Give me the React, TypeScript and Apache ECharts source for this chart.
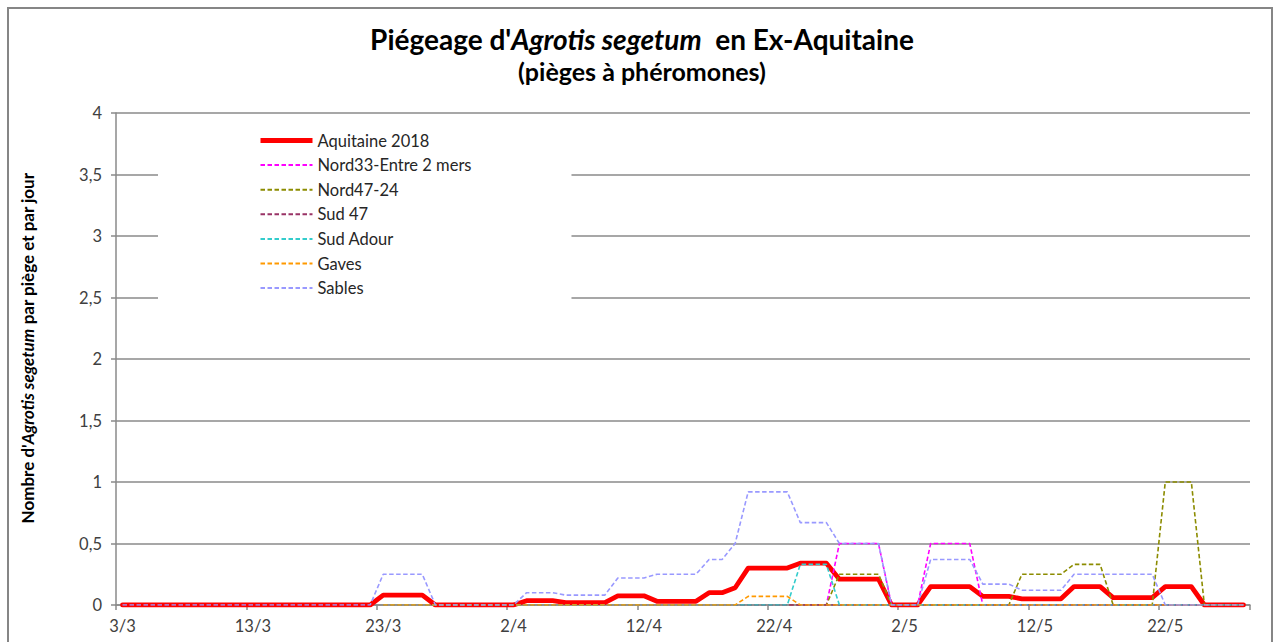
import React, { useEffect, useRef } from "react";
import * as echarts from "echarts";

// Daily categories from 3/3 to 28/5 (87 days)
const startMonth = 3;
const startDay = 3;
const dayCount = 87;
const monthLengths: Record<number, number> = { 3: 31, 4: 30, 5: 31 };
const dates: string[] = (() => {
  const out: string[] = [];
  let d = startDay;
  let m = startMonth;
  for (let i = 0; i < dayCount; i++) {
    out.push(`${d}/${m}`);
    d++;
    if (d > monthLengths[m]) {
      d = 1;
      m++;
    }
  }
  return out;
})();

const yTicks = [0, 0.5, 1, 1.5, 2, 2.5, 3, 3.5, 4];

const seriesNames = [
  "Aquitaine 2018",
  "Nord33-Entre 2 mers",
  "Nord47-24",
  "Sud 47",
  "Sud Adour",
  "Gaves",
  "Sables",
];
const seriesColors = ["#FF0000", "#FF00FF", "#8C8C00", "#993366", "#33CCCC", "#FF9900", "#9999FF"];

const aquitaine = [
  0, 0, 0, 0, 0, 0, 0, 0, 0, 0,
  0, 0, 0, 0, 0, 0, 0, 0, 0, 0,
  0.08, 0.08, 0.08, 0.08, 0, 0, 0, 0, 0, 0,
  0, 0.035, 0.035, 0.035, 0.02, 0.02, 0.02, 0.02, 0.075, 0.075,
  0.075, 0.03, 0.03, 0.03, 0.03, 0.1, 0.1, 0.14, 0.3, 0.3,
  0.3, 0.3, 0.34, 0.34, 0.34, 0.21, 0.21, 0.21, 0.21, 0,
  0, 0, 0.15, 0.15, 0.15, 0.15, 0.07, 0.07, 0.07, 0.05,
  0.05, 0.05, 0.05, 0.15, 0.15, 0.15, 0.06, 0.06, 0.06, 0.06,
  0.15, 0.15, 0.15, 0, 0, 0, 0,
];

const nord33 = [
  null, null, null, null, null, null, null, null, null, null,
  null, null, null, null, null, null, null, null, null, null,
  0, 0, 0, 0, 0, 0, 0, 0, 0, 0,
  0, 0, 0, 0, 0, 0, 0, 0, 0, 0,
  0, 0, 0, 0, 0, 0, 0, 0, 0, 0,
  0, 0, 0, 0, 0, 0.5, 0.5, 0.5, 0.5, 0,
  0, 0, 0.5, 0.5, 0.5, 0.5, 0, 0, 0, 0,
  0, 0, 0, 0, 0, 0, 0, 0, 0, 0,
  0, 0, 0, 0, 0, 0, 0,
];

const nord47 = [
  null, null, null, null, null, null, null, null, null, null,
  null, null, null, null, null, null, null, null, null, null,
  0, 0, 0, 0, 0, 0, 0, 0, 0, 0,
  0, 0, 0, 0, 0, 0, 0, 0, 0, 0,
  0, 0, 0, 0, 0, 0, 0, 0, 0, 0,
  0, 0, 0, 0, 0, 0.25, 0.25, 0.25, 0.25, 0,
  0, 0, 0, 0, 0, 0, 0, 0, 0, 0.25,
  0.25, 0.25, 0.25, 0.33, 0.33, 0.33, 0, 0, 0, 0,
  1, 1, 1, 0, 0, 0, 0,
];

const sud47 = [
  null, null, null, null, null, null, null, null, null, null,
  null, null, null, null, null, null, null, null, null, null,
  0, 0, 0, 0, 0, 0, 0, 0, 0, 0,
  0, 0, 0, 0, 0, 0, 0, 0, 0, 0,
  0, 0, 0, 0, 0, 0, 0, 0, 0, 0,
  0, 0, 0, 0, 0, 0, 0, 0, 0, 0,
  0, 0, 0, 0, 0, 0, 0, 0, 0, 0,
  0, 0, 0, 0, 0, 0, 0, 0, 0, 0,
  0, 0, 0, 0, 0, 0, 0,
];

const sudAdour = [
  null, null, null, null, null, null, null, null, null, null,
  null, null, null, null, null, null, null, null, null, null,
  0, 0, 0, 0, 0, 0, 0, 0, 0, 0,
  0, 0, 0, 0, 0, 0, 0, 0, 0, 0,
  0, 0, 0, 0, 0, 0, 0, 0, 0, 0,
  0, 0, 0.33, 0.33, 0.33, 0, 0, 0, 0, 0,
  0, 0, 0, 0, 0, 0, 0, 0, 0, 0,
  0, 0, 0, 0, 0, 0, 0, 0, 0, 0,
  0, 0, 0, 0, 0, 0, 0,
];

const gaves = [
  null, null, null, null, null, null, null, null, null, null,
  null, null, null, null, null, null, null, null, null, null,
  0, 0, 0, 0, 0, 0, 0, 0, 0, 0,
  0, 0, 0, 0, 0, 0, 0, 0, 0, 0,
  0, 0, 0, 0, 0, 0, 0, 0, 0.07, 0.07,
  0.07, 0.07, 0, 0, 0, 0, 0, 0, 0, 0,
  0, 0, 0, 0, 0, 0, 0, 0, 0, 0,
  0, 0, 0, 0, 0, 0, 0, 0, 0, 0,
  0, 0, 0, 0, 0, 0, 0,
];

const sables = [
  0, 0, 0, 0, 0, 0, 0, 0, 0, 0,
  0, 0, 0, 0, 0, 0, 0, 0, 0, 0,
  0.25, 0.25, 0.25, 0.25, 0, 0, 0, 0, 0, 0,
  0, 0.1, 0.1, 0.1, 0.08, 0.08, 0.08, 0.08, 0.22, 0.22,
  0.22, 0.25, 0.25, 0.25, 0.25, 0.37, 0.37, 0.5, 0.92, 0.92,
  0.92, 0.92, 0.67, 0.67, 0.67, 0.5, 0.5, 0.5, 0.5, 0,
  0, 0, 0.37, 0.37, 0.37, 0.37, 0.17, 0.17, 0.17, 0.12,
  0.12, 0.12, 0.12, 0.25, 0.25, 0.25, 0.25, 0.25, 0.25, 0.25,
  0, 0, 0, 0, 0, 0, 0,
];

const seriesData = [aquitaine, nord33, nord47, sud47, sudAdour, gaves, sables];

const FONT = "Lato, 'Open Sans', sans-serif";
const GRID_COLOR = "#8a8a8a";
const TEXT_COLOR = "#404040";

export default function App() {
  const ref = useRef<HTMLDivElement>(null);

  useEffect(() => {
    if (!ref.current) return;
    const chart = echarts.init(ref.current, undefined, { renderer: "svg" });

    const series = seriesNames.map((name, k) => ({
      name,
      type: "line",
      data: seriesData[k],
      symbol: "none",
      showSymbol: false,
      connectNulls: false,
      color: seriesColors[k],
      lineStyle:
        k === 0
          ? { color: seriesColors[k], width: 4.8, type: "solid", join: "round", cap: "round" }
          : { color: seriesColors[k], width: 1.6, type: [4.5, 2.5] },
      emphasis: { disabled: true },
      silent: true,
      z: 2,
    }));

    const legendData = seriesNames.map((name, k) =>
      k === 0
        ? { name, lineStyle: { width: 5, color: seriesColors[0], type: "solid", cap: "butt" } }
        : { name }
    );

    chart.setOption({
      animation: false,
      backgroundColor: "#ffffff",
      textStyle: { fontFamily: FONT },
      grid: { left: 116, right: 24, top: 113, bottom: 37, containLabel: false },
      xAxis: {
        type: "category",
        data: dates,
        boundaryGap: true,
        axisLine: { show: true, lineStyle: { color: GRID_COLOR, width: 1.5 } },
        axisTick: {
          show: true,
          length: 5,
          interval: (i: number) => i % 10 === 0,
          lineStyle: { color: GRID_COLOR, width: 1.5 },
        },
        axisLabel: {
          interval: (i: number) => i % 10 === 0,
          fontSize: 16.5,
          color: TEXT_COLOR,
          fontFamily: FONT,
          margin: 12,
        },
        splitLine: { show: false },
      },
      yAxis: {
        type: "value",
        min: 0,
        max: 4,
        interval: 0.5,
        axisLine: { show: true, lineStyle: { color: GRID_COLOR, width: 1.5 } },
        axisTick: { show: true, length: 5, lineStyle: { color: GRID_COLOR, width: 1.5 } },
        axisLabel: {
          fontSize: 16.5,
          color: TEXT_COLOR,
          fontFamily: FONT,
          margin: 14,
          formatter: (v: number) => (yTicks.includes(v) ? String(v).replace(".", ",") : ""),
        },
        splitLine: { show: true, lineStyle: { color: GRID_COLOR, width: 1.5 } },
      },
      legend: {
        orient: "vertical",
        left: 158,
        top: 122,
        padding: [10, 100, 8, 100],
        backgroundColor: "#ffffff",
        itemWidth: 52,
        itemHeight: 14,
        itemGap: 7.6,
        selectedMode: false,
        itemStyle: { opacity: 0 },
        textStyle: { fontSize: 16.5, lineHeight: 15.2, color: "#262626", fontFamily: FONT },
        data: legendData,
        z: 10,
      },
      graphic: [
        {
          type: "rect",
          z: -10,
          silent: true,
          shape: { x: 8, y: 8, width: 1264, height: 700 },
          style: { fill: "none", stroke: "#868686", lineWidth: 2 },
        },
        {
          type: "text",
          x: 642,
          y: 39,
          silent: true,
          style: {
            text: "{a|Piégeage d'}{b|Agrotis segetum}{a|  en Ex-Aquitaine}",
            align: "center",
            verticalAlign: "middle",
            rich: {
              a: { fontSize: 28, fontWeight: "bold", fontFamily: FONT, fill: "#000" },
              b: { fontSize: 28, fontWeight: "bold", fontStyle: "italic", fontFamily: FONT, fill: "#000" },
            },
          },
        },
        {
          type: "text",
          x: 642,
          y: 71,
          silent: true,
          style: {
            text: "(pièges à phéromones)",
            align: "center",
            verticalAlign: "middle",
            font: `bold 25px ${FONT}`,
            fill: "#000",
          },
        },
        {
          type: "text",
          x: 27,
          y: 348,
          rotation: Math.PI / 2,
          silent: true,
          style: {
            text: "{a|Nombre d'}{b|Agrotis segetum}{a| par piège et par jour}",
            align: "center",
            verticalAlign: "middle",
            rich: {
              a: { fontSize: 17, fontWeight: "bold", fontFamily: FONT, fill: "#000" },
              b: { fontSize: 17, fontWeight: "bold", fontStyle: "italic", fontFamily: FONT, fill: "#000" },
            },
          },
        },
      ],
      series,
    });

    return () => {
      chart.dispose();
    };
  }, []);

  return (
    <div
      ref={ref}
      style={{ position: "absolute", left: 0, top: 0, width: 1274, height: 642 }}
    />
  );
}
